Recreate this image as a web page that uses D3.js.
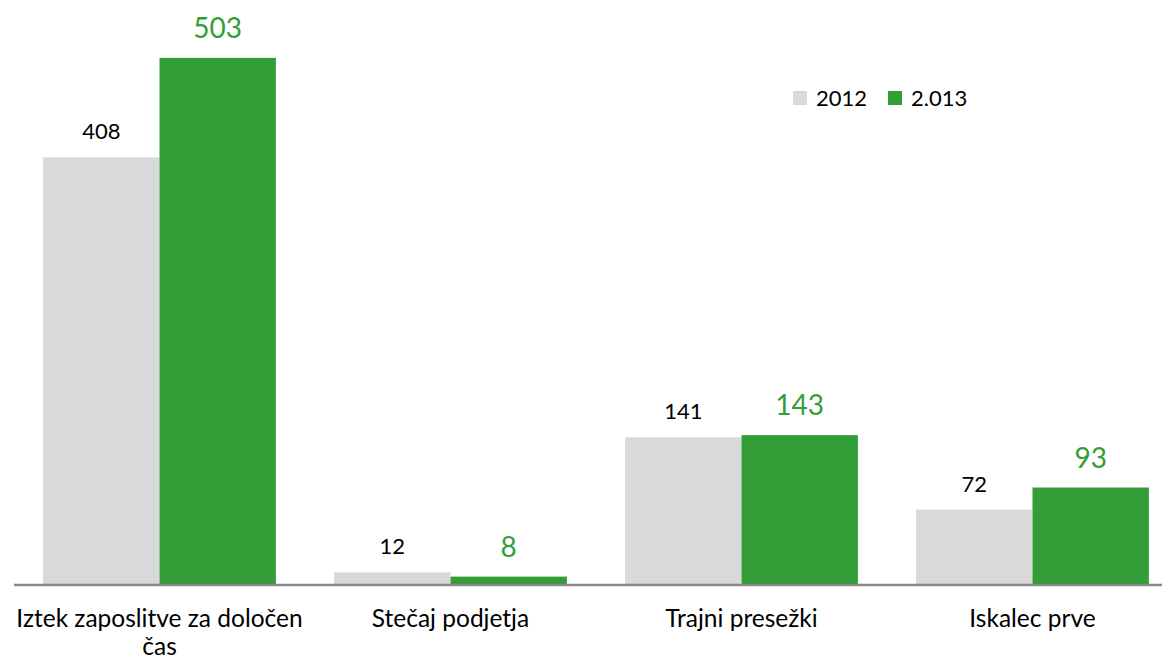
<!DOCTYPE html>
<html>
<head>
<meta charset="utf-8">
<script src="https://cdn.jsdelivr.net/npm/d3@7"></script>
<style>
  html, body { margin: 0; padding: 0; background: #fff; }
  svg { display: block; font-family: Lato, "Open Sans", sans-serif; }
</style>
</head>
<body>
<svg id="chart" width="1162" height="663"></svg>
<script>
// podatki, prebrani s slike
const categories = ['Iztek zaposlitve za določen čas', 'Stečaj podjetja', 'Trajni presežki', 'Iskalec prve'];
const seriesNames = ['2012', '2.013'];
const values2012 = [408, 12, 141, 72];
const values2013 = [503, 8, 143, 93];

const colors = ['#d9d9d9', '#339e37'];
const labelColors = ['#000', '#339e37'];

const [width, height] = [1162, 663];
const baseline = 585;

const svg = d3.select('#chart');

// x: skupine po kategorijah, znotraj še dva stolpca
const x0 = d3.scaleBand(categories, [14, 1178]);
const x1 = d3.scaleBand(seriesNames, [0, x0.bandwidth()]).paddingOuter(0.25);
const y = d3.scaleLinear([0, 550], [baseline, baseline - 550 * 1.048]);

const rows = categories.map((c, i) => ({ category: c, values: [values2012[i], values2013[i]] }));

const groups = svg.append('g')
	.selectAll('g')
	.data(rows)
	.join('g')
	.attr('transform', d => `translate(${x0(d.category)},0)`);

groups.selectAll('rect')
	.data(d => d.values.map((v, i) => ({ name: seriesNames[i], value: v, i })))
	.join('rect')
	.attr('x', d => x1(d.name))
	.attr('y', d => y(d.value))
	.attr('width', x1.bandwidth())
	.attr('height', d => y(0) - y(d.value))
	.attr('fill', d => colors[d.i]);

// oznake vrednosti nad stolpci
groups.selectAll('text.value')
	.data(d => d.values.map((v, i) => ({ name: seriesNames[i], value: v, i })))
	.join('text')
	.attr('class', 'value')
	.attr('x', d => x1(d.name) + x1.bandwidth() / 2)
	.attr('y', d => y(d.value) - (d.i === 0 ? 18 : 20))
	.attr('text-anchor', 'middle')
	.attr('font-size', d => d.i === 0 ? 22 : 28)
	.attr('fill', d => labelColors[d.i])
	.text(d => d.value);

// os x
svg.append('line')
	.attr('x1', 14)
	.attr('x2', width)
	.attr('y1', baseline)
	.attr('y2', baseline)
	.attr('stroke', '#898989')
	.attr('stroke-width', 2.5);

// imena kategorij, prelomljena na širino skupine
const catLabels = svg.append('g')
	.selectAll('text')
	.data(categories)
	.join('text')
	.attr('x', d => x0(d) + x0.bandwidth() / 2)
	.attr('y', 627)
	.attr('text-anchor', 'middle')
	.attr('font-size', 24.5)
	.attr('fill', '#000');

catLabels.each(function (d) {
	const text = d3.select(this);
	const words = d.split(' ');
	let line = [];
	let tspan = text.append('tspan').attr('x', text.attr('x')).attr('dy', 0);
	words.forEach(w => {
		line.push(w);
		tspan.text(line.join(' '));
		if (tspan.node().getComputedTextLength() > x0.bandwidth() && line.length > 1) {
			line.pop();
			tspan.text(line.join(' '));
			line = [w];
			tspan = text.append('tspan').attr('x', text.attr('x')).attr('dy', 28).text(w);
		}
	});
});

// legenda
const legend = svg.append('g').attr('transform', 'translate(793,91)');
const legendItems = legend.selectAll('g')
	.data(seriesNames)
	.join('g')
	.attr('transform', (d, i) => `translate(${i * 95},0)`);
legendItems.append('rect')
	.attr('width', 14)
	.attr('height', 14)
	.attr('fill', (d, i) => colors[i]);
legendItems.append('text')
	.attr('x', 23)
	.attr('y', 15)
	.attr('font-size', 22)
	.attr('fill', '#000')
	.text(d => d);
</script>
</body>
</html>
